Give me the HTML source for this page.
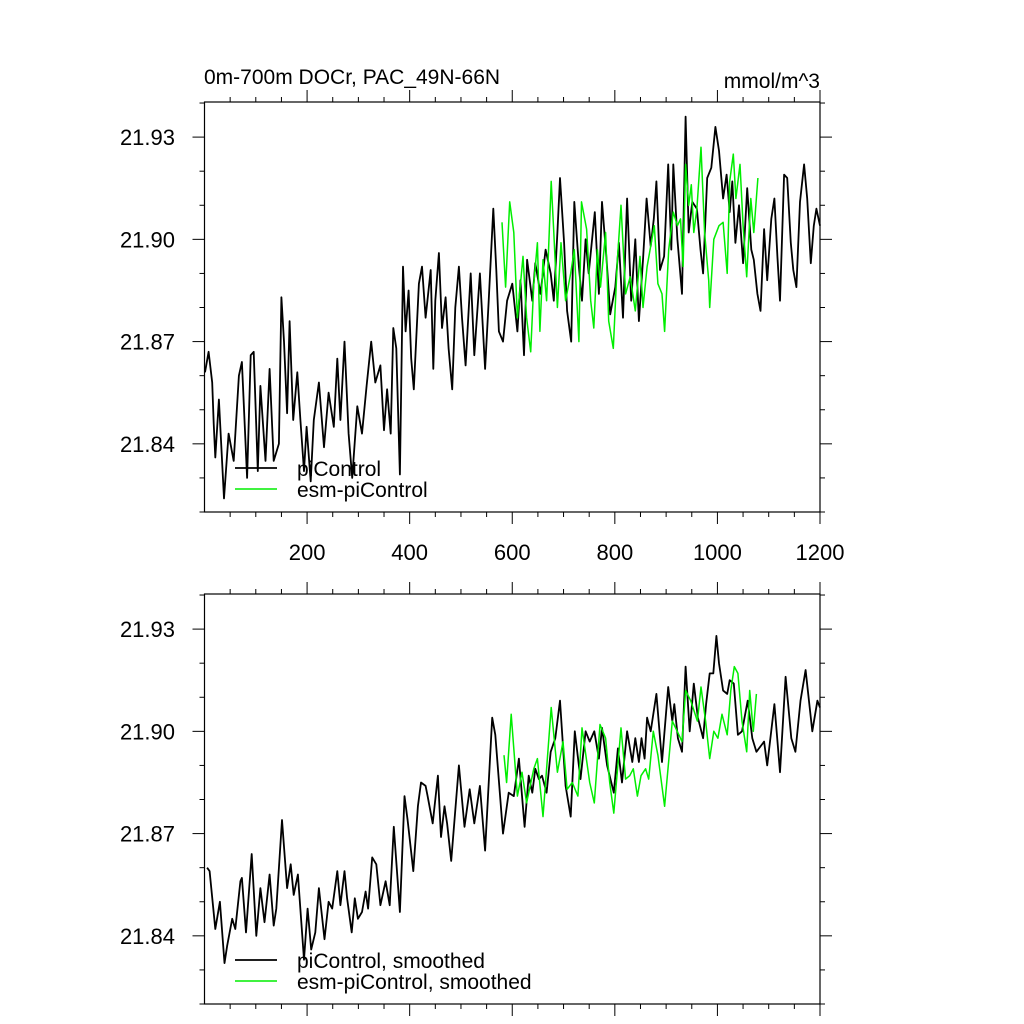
<!DOCTYPE html>
<html><head><meta charset="utf-8"><style>
html,body{margin:0;padding:0;background:#fff;}
svg{display:block;font-family:"Liberation Sans",Arial,sans-serif;}
</style></head><body>
<svg id="chart" width="1024" height="1024" viewBox="0 0 1024 1024" xmlns="http://www.w3.org/2000/svg">
<text x="204" y="84" font-size="21">0m-700m DOCr, PAC_49N-66N</text>
<text x="820" y="88" font-size="21" text-anchor="end">mmol/m^3</text>
<g id="p1"></g>
<g id="p2"></g>
</svg>
<script>
const rawYears=[1,8,15,18,21,28,38,47,57,67,73,83,90,96,104,109,119,127,135,145,150,155,161,166,173,181,187,194,199,207,213,223,233,242,252,259,265,273,281,288,298,307,316,325,333,343,350,356,363,368,374,381,387,392,398,403,408,418,424,431,441,446,450,457,463,470,476,483,489,496,502,509,519,526,537,547,554,563,569,574,582,590,600,610,616,623,629,639,645,655,665,675,681,688,693,701,707,715,721,730,736,743,749,761,769,775,784,791,801,808,816,824,832,840,847,855,862,870,876,881,888,896,904,910,914,922,931,938,944,951,960,967,972,980,988,996,1003,1011,1018,1024,1029,1035,1042,1050,1058,1066,1071,1078,1084,1091,1097,1105,1111,1117,1122,1130,1136,1143,1148,1154,1161,1169,1175,1182,1188,1193,1200];
const rawPi=[21.861,21.867,21.858,21.846,21.836,21.853,21.824,21.843,21.835,21.860,21.864,21.830,21.866,21.867,21.832,21.857,21.835,21.862,21.835,21.840,21.883,21.870,21.849,21.876,21.847,21.861,21.847,21.832,21.845,21.829,21.847,21.858,21.839,21.855,21.845,21.865,21.847,21.870,21.843,21.830,21.851,21.843,21.857,21.870,21.858,21.863,21.844,21.856,21.843,21.874,21.868,21.831,21.892,21.873,21.885,21.865,21.856,21.887,21.892,21.877,21.891,21.862,21.882,21.896,21.874,21.883,21.868,21.856,21.880,21.892,21.877,21.863,21.890,21.866,21.890,21.862,21.882,21.909,21.891,21.873,21.870,21.882,21.887,21.873,21.888,21.866,21.894,21.882,21.893,21.884,21.897,21.890,21.882,21.902,21.918,21.899,21.879,21.870,21.911,21.892,21.882,21.900,21.890,21.908,21.884,21.911,21.894,21.878,21.886,21.899,21.877,21.912,21.882,21.900,21.876,21.894,21.912,21.898,21.906,21.917,21.891,21.895,21.922,21.897,21.922,21.900,21.884,21.936,21.902,21.911,21.909,21.897,21.890,21.918,21.921,21.933,21.926,21.912,21.919,21.908,21.917,21.899,21.910,21.893,21.915,21.897,21.894,21.884,21.879,21.903,21.888,21.906,21.912,21.895,21.882,21.919,21.918,21.899,21.891,21.886,21.911,21.922,21.912,21.893,21.904,21.909,21.904];
const rawEsmYears=[580,587,595,603,610,616,621,628,636,642,649,654,660,667,676,681,688,695,704,714,721,730,735,745,753,759,766,772,782,788,797,805,812,821,830,840,849,855,863,871,877,884,892,897,905,914,922,928,933,938,944,949,954,960,968,975,983,985,993,1003,1011,1019,1024,1031,1036,1044,1050,1057,1065,1071,1079];
const rawEsm=[21.905,21.886,21.911,21.902,21.877,21.887,21.895,21.877,21.867,21.887,21.899,21.873,21.894,21.882,21.917,21.902,21.880,21.899,21.882,21.890,21.897,21.870,21.911,21.903,21.882,21.874,21.897,21.886,21.902,21.876,21.868,21.894,21.910,21.884,21.889,21.879,21.895,21.880,21.892,21.899,21.904,21.887,21.884,21.873,21.897,21.908,21.904,21.906,21.892,21.922,21.910,21.916,21.902,21.909,21.927,21.902,21.888,21.880,21.900,21.904,21.905,21.890,21.917,21.925,21.912,21.922,21.904,21.889,21.912,21.902,21.918];
const smYears=[5,10,21,30,39,44,54,60,70,73,81,92,101,109,117,127,135,140,151,161,168,174,182,194,201,208,216,223,234,242,249,259,265,273,278,287,293,299,307,314,319,327,335,343,353,361,369,381,390,396,407,416,422,431,435,445,455,461,468,473,481,496,507,517,526,537,547,561,567,582,593,603,613,624,632,639,645,652,658,667,675,684,693,704,714,722,733,743,751,760,769,775,785,798,806,814,824,834,840,847,852,858,863,870,881,892,904,912,916,923,931,938,946,954,962,972,978,985,992,998,1003,1011,1019,1024,1032,1040,1048,1059,1068,1076,1091,1097,1111,1122,1133,1144,1152,1162,1172,1185,1195,1200];
const smPi=[21.860,21.859,21.842,21.850,21.832,21.837,21.845,21.842,21.856,21.857,21.841,21.864,21.840,21.854,21.844,21.858,21.843,21.848,21.874,21.854,21.861,21.852,21.858,21.833,21.848,21.836,21.841,21.854,21.839,21.850,21.848,21.859,21.849,21.859,21.851,21.841,21.851,21.845,21.847,21.853,21.848,21.863,21.861,21.849,21.856,21.849,21.872,21.847,21.881,21.874,21.859,21.878,21.885,21.884,21.881,21.873,21.887,21.869,21.878,21.873,21.862,21.890,21.872,21.883,21.873,21.884,21.865,21.904,21.899,21.870,21.882,21.881,21.892,21.872,21.887,21.882,21.889,21.886,21.887,21.882,21.894,21.898,21.909,21.884,21.875,21.900,21.886,21.900,21.897,21.900,21.892,21.901,21.890,21.882,21.895,21.885,21.900,21.891,21.898,21.891,21.898,21.892,21.904,21.900,21.911,21.891,21.913,21.903,21.908,21.898,21.894,21.919,21.900,21.914,21.904,21.898,21.908,21.917,21.917,21.928,21.920,21.912,21.911,21.915,21.914,21.899,21.900,21.909,21.898,21.894,21.897,21.890,21.908,21.888,21.916,21.898,21.894,21.909,21.918,21.900,21.909,21.907];
const smEsmYears=[584,589,598,610,619,628,642,649,660,676,688,699,707,717,728,736,751,760,771,782,790,798,812,821,829,836,844,851,860,866,875,884,897,912,925,931,938,948,961,968,977,985,993,1001,1009,1019,1026,1033,1040,1048,1057,1063,1070,1076];
const smEsm=[21.893,21.885,21.905,21.881,21.888,21.879,21.889,21.892,21.875,21.907,21.888,21.897,21.883,21.885,21.881,21.901,21.885,21.879,21.902,21.898,21.885,21.876,21.901,21.886,21.887,21.889,21.881,21.887,21.889,21.886,21.900,21.893,21.878,21.903,21.899,21.897,21.912,21.909,21.903,21.913,21.903,21.892,21.900,21.898,21.905,21.899,21.912,21.919,21.917,21.903,21.894,21.912,21.900,21.911];
const xTicks=[200,400,600,800,1000,1200];
const yTicks=[21.84,21.87,21.90,21.93];
const yTickLabels=["21.84","21.87","21.90","21.93"];

const NS="http://www.w3.org/2000/svg";
const X0=204.5,X1=820;
const XMIN=0,XMAX=1200,YMIN=21.82,YMAX=21.9403;
function mk(tag,attrs,parent){const e=document.createElementNS(NS,tag);for(const k in attrs)e.setAttribute(k,attrs[k]);parent.appendChild(e);return e;}

function panel(g,top,showX,series,legend){
  const bot=top+410;
  const sx=v=>X0+(v-XMIN)/(XMAX-XMIN)*(X1-X0);
  const sy=v=>bot-(v-YMIN)/(YMAX-YMIN)*(bot-top);
  series.forEach(s=>{
    let d='';
    s.x.forEach((xv,i)=>{d+=(i?'L':'M')+sx(xv).toFixed(1)+','+sy(s.y[i]).toFixed(1);});
    const p=mk('path',{d:d,fill:'none',stroke:s.c,'stroke-width':s.w,'stroke-linejoin':'round'},g);
    
    
  });
  const fr=mk('rect',{x:X0,y:top,width:X1-X0,height:bot-top,fill:'none',stroke:'#000','stroke-width':1.2},g);
  
  
  for(let v=50;v<=1200;v+=50){
    const maj=(v%200===0);const L=maj?12:5;const x=sx(v);
    mk('line',{x1:x,x2:x,y1:bot,y2:bot+L,stroke:'#000','stroke-width':1},g);
    mk('line',{x1:x,x2:x,y1:top,y2:top-L,stroke:'#000','stroke-width':1},g);
  }
  for(let k=0;k<=12;k++){
    const v=21.82+k*0.01;if(v>YMAX)break;
    const maj=yTicks.some(t=>Math.abs(t-v)<1e-6);const L=maj?12:5;const y=sy(v);
    mk('line',{x1:X0,x2:X0-L,y1:y,y2:y,stroke:'#000','stroke-width':1},g);
    mk('line',{x1:X1,x2:X1+L,y1:y,y2:y,stroke:'#000','stroke-width':1},g);
  }
  yTicks.forEach((v,i)=>{
    const t=mk('text',{x:175,y:sy(v)+8,'font-size':22,'text-anchor':'end'},g);
    t.textContent=yTickLabels[i];
    
    
  });
  if(showX){
    xTicks.forEach(v=>{
      const t=mk('text',{x:sx(v),y:bot+48,'font-size':22,'text-anchor':'middle'},g);
      t.textContent=String(v);
      
      
    });
  }
  legend.forEach((l,i)=>{
    const y=bot-44+i*21;
    const ln=mk('line',{x1:235,x2:277,y1:y,y2:y,stroke:l.c,'stroke-width':l.w},g);
    
    
    const t=mk('text',{x:297,y:y+8,'font-size':21},g);
    t.textContent=l.t;
    
    
  });
}
panel(document.getElementById('p1'),102,true,
 [{x:rawYears,y:rawPi,c:'#000',w:1.8,name:'picontrol-line'},{x:rawEsmYears,y:rawEsm,c:'#00ee00',w:1.5,name:'esm-picontrol-line'}],
 [{c:'#000',w:1.8,t:'piControl'},{c:'#00ee00',w:1.5,t:'esm-piControl'}]);
panel(document.getElementById('p2'),594,false,
 [{x:smYears,y:smPi,c:'#000',w:1.8,name:'picontrol-smoothed-line'},{x:smEsmYears,y:smEsm,c:'#00ee00',w:1.5,name:'esm-picontrol-smoothed-line'}],
 [{c:'#000',w:1.8,t:'piControl, smoothed'},{c:'#00ee00',w:1.5,t:'esm-piControl, smoothed'}]);
</script>
</body></html>
